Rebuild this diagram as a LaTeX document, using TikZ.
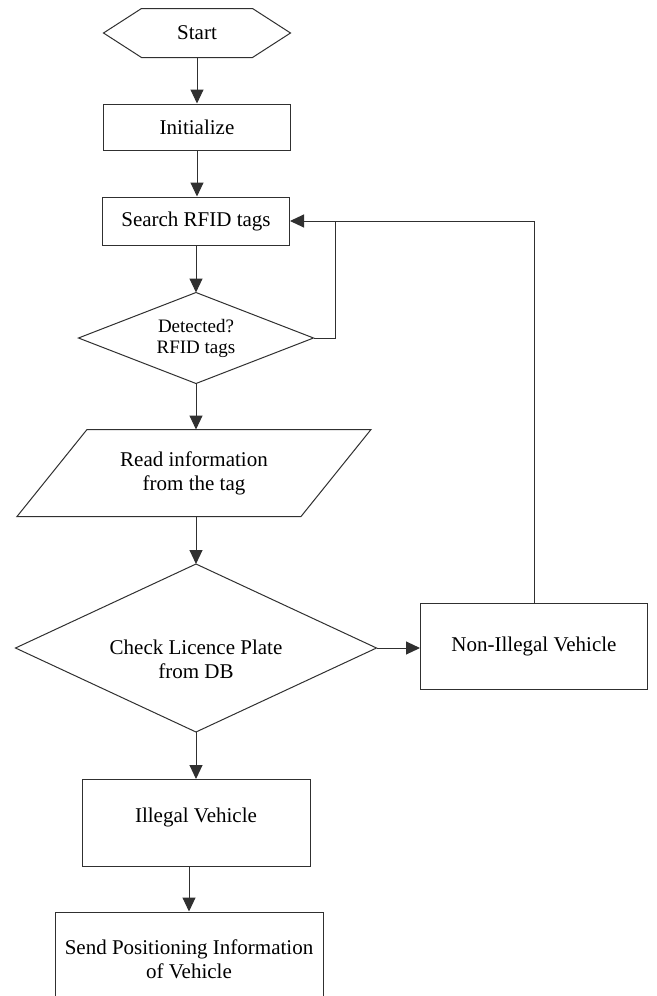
\documentclass[tikz,border=0pt]{standalone}
\usepackage{fontspec}
\setmainfont{Liberation Serif}
\usetikzlibrary{arrows.meta,shapes.geometric,calc}
\definecolor{ln}{HTML}{303030}
\begin{document}
\begin{tikzpicture}[x=1pt,y=-1pt,line width=1pt,
  every node/.style={font=\fontsize{21}{24}\selectfont, align=center, inner sep=0pt, text=black},
  boxnode/.style={draw=ln, rectangle},
  arr/.style={draw=ln, -{Triangle[width=13pt,length=14pt]}},
  plain/.style={draw=ln}
]
\useasboundingbox (0,0) rectangle (656,996);
\clip (0,0) rectangle (656,996);
\fill[white] (0,0) rectangle (656,996);

% nodes
\node[minimum width=186pt, minimum height=48pt] (start) at (197,33) {Start};
\draw[plain] (start.west) -- ($(start.north west)+(38,0)$) -- ($(start.north east)+(-38,0)$) -- (start.east)
  -- ($(start.south east)+(-38,0)$) -- ($(start.south west)+(38,0)$) -- cycle;

\node[boxnode, minimum width=187pt, minimum height=46pt] (init) at (197,127) {Initialize};
\node[boxnode, minimum width=187pt, minimum height=48pt] (search) at (196,221) {Search RFID tags};

\node[minimum width=234pt, minimum height=90pt, font=\fontsize{19}{21}\selectfont] (det) at (196,338) {Detected?\\RFID tags};
\draw[plain] (det.north) -- (det.east) -- (det.south) -- (det.west) -- cycle;

\node[minimum width=283pt, minimum height=86pt] (read) at (194,473) {Read information\\from the tag};
\draw[plain] ($(read.north west)+(35,0)$) -- ($(read.north east)+(35,0)$) -- ($(read.south east)+(-35,0)$) -- ($(read.south west)+(-35,0)$) -- cycle;

\node[minimum width=360pt, minimum height=167pt] (check) at (196,648) {};
\draw[plain] (check.north) -- (check.east) -- (check.south) -- (check.west) -- cycle;
\node (checktxt) at ($(check.center)+(0,11)$) {Check Licence Plate\\from DB};

\node[boxnode, minimum width=227pt, minimum height=86pt] (nonill) at (534,646) {Non-Illegal Vehicle};
\node[boxnode, minimum width=228pt, minimum height=87pt] (ill) at (196,823) {};
\node (illtxt) at ($(ill.center)+(0,-6)$) {Illegal Vehicle};
\node[boxnode, minimum width=268pt, minimum height=100pt] (send) at (189,962) {};
\node (sendtxt) at ($(send.center)+(0,-3)$) {Send Positioning Information\\of Vehicle};

\coordinate (fb) at (335,221);

% connectors
\draw[arr] (start.south) -- (init.north);
\draw[arr] (init.south) -- (init.south |- search.north);
\draw[arr] (search.south) -- (det.north);
\draw[arr] (det.south) -- (det.south |- read.north);
\draw[arr] (read.south -| det.south) -- (check.north);
\draw[arr] (check.east) -- (check.east -| nonill.west);
\draw[arr] (check.south) -- (ill.north);
\draw[arr] (ill.south -| send.north) -- (send.north);
\draw[arr] (det.east) -| (fb) -- (search.east);
\draw[plain] (nonill.north) |- (fb);
\end{tikzpicture}
\end{document}
